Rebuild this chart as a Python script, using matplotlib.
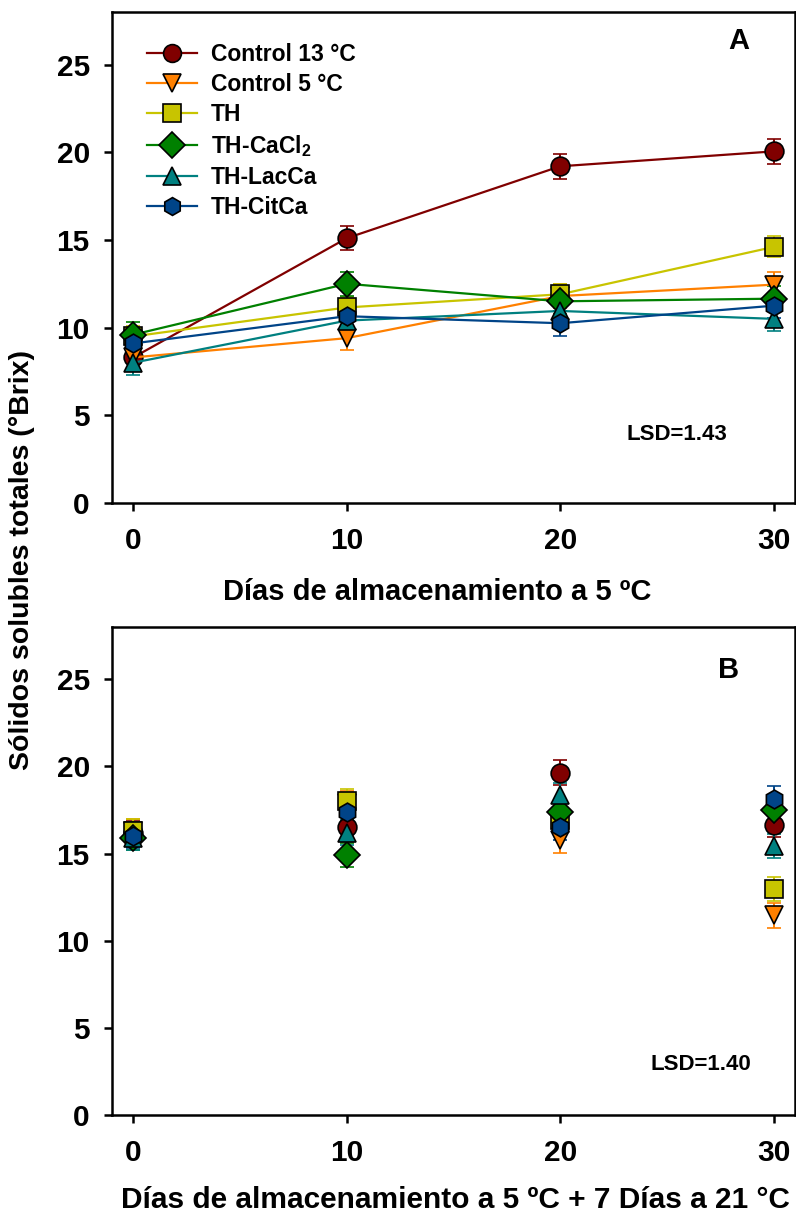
import matplotlib
matplotlib.use("Agg")
import matplotlib.pyplot as plt

plt.rcParams['font.family'] = ['Liberation Sans', 'DejaVu Sans']
plt.rcParams['font.weight'] = 'bold'
plt.rcParams['mathtext.fontset'] = 'custom'
plt.rcParams['mathtext.rm'] = 'Liberation Sans:bold'
plt.rcParams['mathtext.bf'] = 'Liberation Sans:bold'

# storage days
days = [0, 10, 20, 30]

labels = ['Control 13 °C', 'Control 5 °C', 'TH', r'TH-CaCl$_\mathbf{2}$', 'TH-LacCa', 'TH-CitCa']
colors = ['#800000', '#ff8000', '#c8c400', '#008000', '#008080', '#004488']
markers = ['o', 'v', 's', 'D', '^', 'h']

# panel A: days at 5 ºC
vals_a = [
    [8.3, 15.1, 19.2, 20.05],
    [8.3, 9.4, 11.8, 12.45],
    [9.5, 11.15, 11.9, 14.6],
    [9.6, 12.5, 11.5, 11.65],
    [8.0, 10.4, 10.95, 10.5],
    [9.1, 10.65, 10.25, 11.25],
]
err_a = [0.7, 0.7, 0.6, 0.7, 0.7, 0.7]

# panel B: days at 5 ºC + 7 days at 21 °C
vals_b = [
    [16.2, 16.5, 19.65, 16.65],
    [16.3, 17.9, 15.75, 11.45],
    [16.3, 18.0, 16.9, 12.95],
    [15.9, 14.9, 17.4, 17.5],
    [15.9, 16.2, 18.35, 15.45],
    [16.0, 17.4, 16.5, 18.15],
]
err_b = [0.7, 0.7, 0.7, 0.7, 0.7, 0.7]

fig = plt.figure(figsize=(7.96, 12.22), dpi=100)
ax_a = fig.add_axes([0.1407, 0.5884, 0.858, 0.4018])
ax_b = fig.add_axes([0.1407, 0.0876, 0.858, 0.3993])

handles = []
for i in range(len(labels)):
    eb = ax_a.errorbar(days, vals_a[i], yerr=err_a[i], color=colors[i], lw=1.6,
                       marker=markers[i], ms=13.5, mfc=colors[i], mec='black', mew=1.2,
                       capsize=5, elinewidth=1.4, capthick=1.4)
    handles.append(eb[0])
    ax_b.errorbar(days, vals_b[i], yerr=err_b[i], color=colors[i], lw=0,
                  marker=markers[i], ms=13.5, mfc=colors[i], mec='black', mew=1.2,
                  capsize=5, elinewidth=1.4, capthick=1.4)

for ax in (ax_a, ax_b):
    ax.set_xlim(-1, 31)
    ax.set_ylim(0, 28)
    ax.set_xticks(days)
    ax.set_yticks([0, 5, 10, 15, 20, 25])
    ax.tick_params(direction='out', length=5.5, width=1.8, labelsize=21.5)
    ax.tick_params(axis='x', pad=12)
    ax.tick_params(axis='y', pad=10.5)
    for s in ax.spines.values():
        s.set_linewidth(1.8)
    for t in ax.get_xticklabels() + ax.get_yticklabels():
        t.set_fontweight('bold')

leg = ax_a.legend(handles, labels, loc='upper left', bbox_to_anchor=(35 / 683, 0.936),
                  frameon=False, fontsize=16.5, handlelength=2.2, handletextpad=0.6,
                  labelspacing=0.3, borderaxespad=0, borderpad=0, markerscale=0.95)

ax_a.text(0.918, 0.941, 'A', transform=ax_a.transAxes, fontsize=21,
          fontweight='bold', ha='center', va='center')
ax_b.text(0.903, 0.912, 'B', transform=ax_b.transAxes, fontsize=21,
          fontweight='bold', ha='center', va='center')
ax_a.text(0.827, 0.1395, 'LSD=1.43', transform=ax_a.transAxes, fontsize=16,
          fontweight='bold', ha='center', va='center')
ax_b.text(0.862, 0.1025, 'LSD=1.40', transform=ax_b.transAxes, fontsize=16,
          fontweight='bold', ha='center', va='center')

fig.text(437 / 796, 1 - 592 / 1222, 'Días de almacenamiento a 5 ºC',
         fontsize=21, fontweight='bold', ha='center', va='center')
fig.text(455 / 796, 1 - 1200 / 1222, 'Días de almacenamiento a 5 ºC + 7 Días a 21 °C',
         fontsize=21.5, fontweight='bold', ha='center', va='center')
fig.text(22 / 796, 1 - 560 / 1222, 'Sólidos solubles totales (°Brix)',
         fontsize=20.5, fontweight='bold', ha='center', va='center', rotation=90)

fig.savefig('out.png', dpi=100)
